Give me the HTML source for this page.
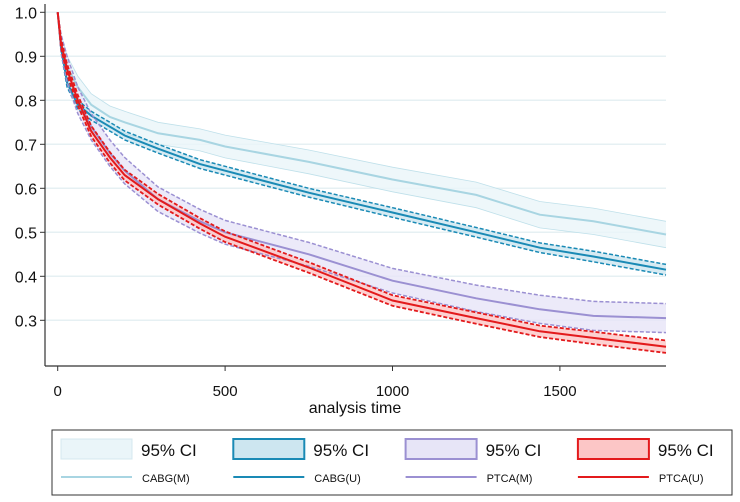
<!DOCTYPE html>
<html><head><meta charset="utf-8"><style>
body{margin:0;background:#fff;}
svg{display:block;font-family:"Liberation Sans",Arial,sans-serif;}
</style></head><body>
<svg id="chart" width="740" height="502" viewBox="0 0 740 502">
<g id="grid"></g>
<g id="bands"></g>
<g id="lines"></g>
<g id="axes"></g>
<text x="355" y="413" font-size="16" text-anchor="middle" fill="#111">analysis time</text>
<g>
<rect x="52" y="430" width="680" height="65" fill="#fff" stroke="#333" stroke-width="1"/>
<g id="legend"></g>
</g>
</svg>
<script>
const times=[0,10,28,60,100,156,200,300,425,500,750,1000,1250,1440,1600,1817];
const cabgM=[1,0.93,0.876,0.83,0.79,0.762,0.75,0.725,0.71,0.695,0.66,0.62,0.585,0.54,0.525,0.495];
const cabgU=[1,0.92,0.84,0.79,0.765,0.74,0.72,0.69,0.655,0.64,0.59,0.545,0.5,0.465,0.445,0.415];
const ptcaM=[1,0.93,0.87,0.8,0.74,0.68,0.64,0.575,0.525,0.5,0.45,0.39,0.35,0.325,0.31,0.305];
const ptcaU=[1,0.93,0.87,0.8,0.73,0.67,0.63,0.575,0.52,0.49,0.42,0.345,0.305,0.275,0.26,0.24];
const ciM=[0,0.02,0.025,0.025,0.025,0.025,0.025,0.025,0.025,0.026,0.027,0.028,0.029,0.03,0.03,0.03];
const ciU=[0,0.01,0.01,0.01,0.01,0.01,0.01,0.01,0.01,0.01,0.01,0.011,0.011,0.011,0.012,0.012];
const ciPM=[0,0.02,0.03,0.03,0.03,0.03,0.03,0.028,0.027,0.027,0.027,0.028,0.03,0.032,0.033,0.033];
const ciPU=[0,0.01,0.012,0.012,0.012,0.012,0.012,0.012,0.012,0.012,0.012,0.012,0.013,0.013,0.014,0.014];
const yTicks=[0.3,0.4,0.5,0.6,0.7,0.8,0.9,1.0];
const xTicks=[0,500,1000,1500];
const legendLabels=["CABG(M)","CABG(U)","PTCA(M)","PTCA(U)"];

const NS="http://www.w3.org/2000/svg";
const X=t=>57.7+t*0.3348;
const Y=v=>12.3+(1-v)*440;
function mk(tag,attrs,parent){const e=document.createElementNS(NS,tag);for(const k in attrs)e.setAttribute(k,attrs[k]);parent.appendChild(e);return e;}
const grid=document.getElementById('grid'),bands=document.getElementById('bands'),lines=document.getElementById('lines'),axes=document.getElementById('axes'),legend=document.getElementById('legend');
yTicks.forEach(v=>{
  const g=mk('line',{x1:45,x2:666,y1:Y(v),y2:Y(v),stroke:'#e6f0f3','stroke-width':1.5},grid);
  
  
  const tk=mk('line',{x1:40,x2:45,y1:Y(v),y2:Y(v),stroke:'#333'},axes);
  
  
  const t=mk('text',{x:37,y:Y(v)+6,'font-size':16,'text-anchor':'end',fill:'#111'},axes);
  t.textContent=v.toFixed(1);
  
  
});
xTicks.forEach(v=>{
  const tk=mk('line',{x1:X(v),x2:X(v),y1:366,y2:371,stroke:'#333'},axes);
  
  
  const t=mk('text',{x:X(v),y:396,'font-size':15,'text-anchor':'middle',fill:'#111'},axes);
  t.textContent=v;
  
  
});
const ya=mk('line',{x1:45,x2:45,y1:4,y2:366,stroke:'#333','stroke-width':1.2},axes);


const xa=mk('line',{x1:45,x2:666,y1:366,y2:366,stroke:'#333','stroke-width':1.2},axes);



function pts(vals,off,sign){return times.map((t,i)=>X(t).toFixed(1)+','+Y(vals[i]+sign*off[i]).toFixed(1));}
const series=[
 {v:cabgM,ci:ciM,line:'#a8d5e2',fill:'#eaf5f9',bound:'#bfe0ea',dash:'',bw:0.8,n:'cabg-m'},
 {v:cabgU,ci:ciU,line:'#1a8ab5',fill:'#cde6f0',bound:'#1a8ab5',dash:'4,2',bw:1.5,n:'cabg-u'},
 {v:ptcaM,ci:ciPM,line:'#9b90d2',fill:'#e7e5f7',bound:'#9b90d2',dash:'4,2',bw:1.5,n:'ptca-m'},
 {v:ptcaU,ci:ciPU,line:'#e31a1c',fill:'#fcc6c6',bound:'#e31a1c',dash:'4,2',bw:1.8,n:'ptca-u'}
];
series.forEach(s=>{
  const up=pts(s.v,s.ci,1),lo=pts(s.v,s.ci,-1).reverse();
  const b=mk('polygon',{points:up.concat(lo).join(' '),fill:s.fill,'fill-opacity':0.8},bands);
  
  
});
series.forEach(s=>{
  [1,-1].forEach(sg=>{
    const l=mk('polyline',{points:pts(s.v,s.ci,sg).join(' '),fill:'none',stroke:s.bound,'stroke-width':s.bw,'stroke-dasharray':s.dash},lines);
    
    
  });
  const l=mk('polyline',{points:pts(s.v,s.ci,0).join(' '),fill:'none',stroke:s.line,'stroke-width':2},lines);
  
  
});
series.forEach((s,i)=>{
  const x0=61+i*172.3;
  const sw=mk('rect',{x:x0,y:439,width:71,height:20,fill:s.fill,stroke:i==0?'#d4e8ef':s.line,'stroke-width':i==0?1:2},legend);
  
  
  const t=mk('text',{x:x0+80,y:456,'font-size':17,fill:'#111'},legend);
  t.textContent='95% CI';
  
  
  const ln=mk('line',{x1:x0,x2:x0+71,y1:477,y2:477,stroke:s.line,'stroke-width':2},legend);
  
  
  const t2=mk('text',{x:x0+81,y:482,'font-size':11,fill:'#111'},legend);
  t2.textContent=legendLabels[i];
  
  
});
</script>
</body></html>
